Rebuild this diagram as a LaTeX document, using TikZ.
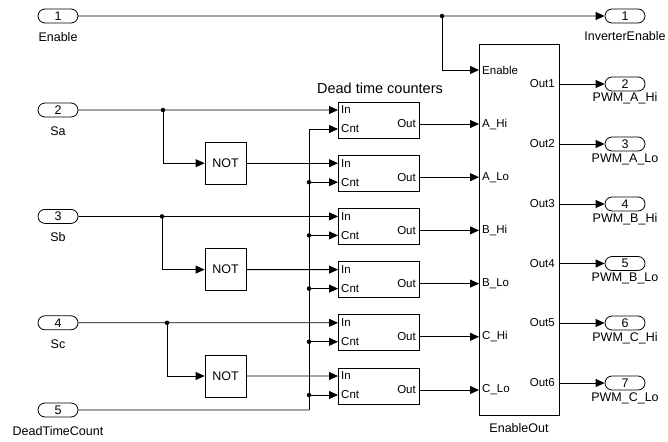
\documentclass[tikz,border=0pt]{standalone}
\usepackage{fontspec}
\setmainfont{Liberation Sans}
\usetikzlibrary{arrows.meta,shapes.misc}
\begin{document}
\begin{tikzpicture}[x=1pt,y=-1pt,
  wire/.style={line width=0.8pt},
  arr/.style={wire,-{Triangle[length=9pt,width=8pt]}},
  blk/.style={draw,line width=0.8pt,inner sep=0pt},
  pill/.style={draw,rounded rectangle,line width=0.8pt,minimum width=40pt,minimum height=14pt,inner sep=0pt,font=\fontsize{12.5}{13}\selectfont},
  lbl/.style={font=\fontsize{12.5}{14}\selectfont,inner sep=0pt},
  plbl/.style={font=\fontsize{11.5}{13}\selectfont,inner sep=0pt},
  jdot/.style={circle,fill,inner sep=0pt,minimum size=4.5pt}]
\useasboundingbox (0,0) rectangle (668,441);

% inports
\foreach \n/\y/\t in {1/16/Enable,2/110/Sa,3/216.4/Sb,4/322.8/Sc,5/410/DeadTimeCount}{
  \node[pill] (in\n) at (58,\y) {\n};
  \node[lbl,anchor=base] (in\n-l) at (58,\y+25.5) {\t};
}

% outports
\node[pill] (out1) at (625,16) {1};
\node[lbl,anchor=base] (out1-l) at (625,41) {InverterEnable};
\foreach \n/\y/\t in {2/84/PWM\_A\_Hi,3/144/PWM\_A\_Lo,4/204/PWM\_B\_Hi,5/263.5/PWM\_B\_Lo,6/323/PWM\_C\_Hi,7/383/PWM\_C\_Lo}{
  \node[pill] (out\n) at (625,\y) {\n};
  \node[lbl,anchor=base] (out\n-l) at (625,\y+18) {\t};
}

% NOT blocks
\node[blk,lbl,minimum width=41pt,minimum height=42pt] (not1) at (225.5,163.2) {NOT};
\node[blk,lbl,minimum width=41pt,minimum height=42pt] (not2) at (225.5,269.6) {NOT};
\node[blk,lbl,minimum width=41pt,minimum height=42pt] (not3) at (225.5,376) {NOT};

% EnableOut block
\node[blk,minimum width=80pt,minimum height=371pt] (eo) at (519,229.5) {};
\node[lbl,anchor=base] (eo-l) at (519,432) {EnableOut};
\coordinate (eo-en) at (479,70);
\node[plbl,anchor=west] (eo-enl) at (482,70) {Enable};

% dead time counters
\node[font=\fontsize{14.5}{16}\selectfont,inner sep=0pt,anchor=base] (dtc) at (380,93) {Dead time counters};
\foreach \i/\p in {1/A\_Hi,2/A\_Lo,3/B\_Hi,4/B\_Lo,5/C\_Hi,6/C\_Lo}{
  \pgfmathsetmacro\t{102+53.2*(\i-1)}
  \node[blk,minimum width=81pt,minimum height=36pt] (d\i) at (378.5,\t+18) {};
  \coordinate (d\i-in) at (338,\t+8);
  \coordinate (d\i-cnt) at (338,\t+27);
  \coordinate (d\i-out) at (419,\t+22);
  \coordinate (bus\i) at (309,\t+27);
  \coordinate (eo-in\i) at (479,\t+22);
  \node[plbl,anchor=west] (d\i-inl) at (341,\t+8) {In};
  \node[plbl,anchor=west] (d\i-cntl) at (341,\t+27) {Cnt};
  \node[plbl,anchor=east] (d\i-outl) at (416,\t+22) {Out};
  \node[plbl,anchor=west] (eo-inl\i) at (482,\t+22) {\p};
  \draw[arr] (d\i-out) -- (eo-in\i);
}

% EnableOut outputs
\foreach \j/\y in {1/84,2/144,3/204,4/263.5,5/323,6/383}{
  \pgfmathtruncatemacro\k{\j+1}
  \coordinate (eo-out\j) at (559,\y);
  \node[plbl,anchor=east] (eo-outl\j) at (555,\y) {Out\j};
  \draw[arr] (eo-out\j) -- (out\k);
}

% Enable path
\coordinate (b1) at (442,16);
\draw[arr] (in1) -- (out1);
\node[jdot] (b1d) at (b1) {};
\draw[arr] (b1) |- (eo-en);

% Sa
\coordinate (b2) at (163,110);
\draw[arr] (in2) -- (d1-in);
\node[jdot] (b2d) at (b2) {};
\draw[arr] (b2) |- (not1);
\draw[arr] (not1) -- (d2-in);

% Sb
\coordinate (b3) at (162,216.4);
\draw[arr] (in3) -- (d3-in);
\node[jdot] (b3d) at (b3) {};
\draw[arr] (b3) |- (not2);
\draw[arr] (not2) -- (d4-in);

% Sc
\coordinate (b4) at (167,322.8);
\draw[arr] (in4) -- (d5-in);
\node[jdot] (b4d) at (b4) {};
\draw[arr] (b4) |- (not3);
\draw[arr] (not3) -- (d6-in);

% count bus
\coordinate (busbot) at (309,410);
\draw[wire] (in5) -- (busbot);
\draw[arr] (busbot) |- (d1-cnt);
\foreach \i in {2,...,6}{
  \node[jdot] (bd\i) at (bus\i) {};
  \draw[arr] (bus\i) -- (d\i-cnt);
}
\end{tikzpicture}
\end{document}
